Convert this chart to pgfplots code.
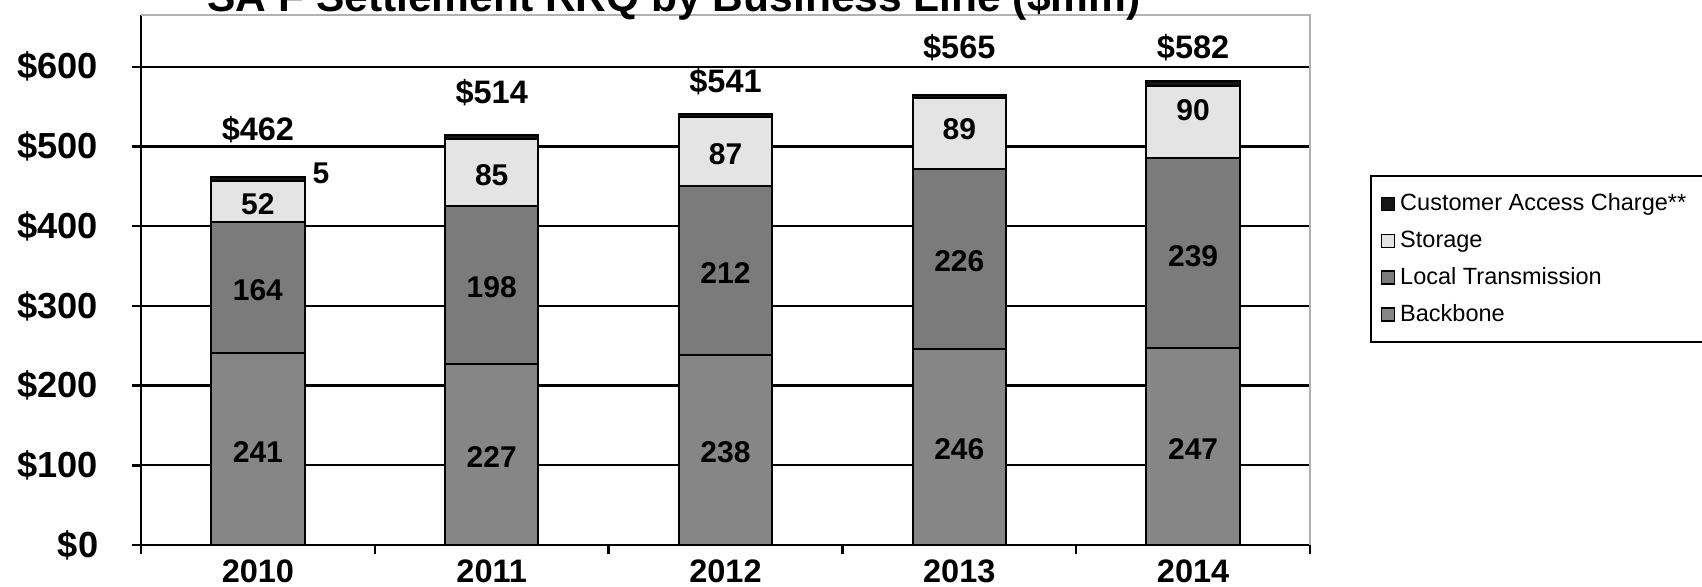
\documentclass[border=0pt]{standalone}
\usepackage{fontspec}
\setmainfont{Liberation Sans}
\usepackage{pgfplots}
\pgfplotsset{compat=1.18}

\definecolor{cac}{HTML}{151515}
\definecolor{stor}{HTML}{E4E4E4}
\definecolor{loc}{HTML}{7B7B7B}
\definecolor{bb}{HTML}{868686}

\tikzset{seg/.style={font=\fontsize{12}{14}\selectfont\bfseries},
         tot/.style={font=\fontsize{13}{15}\selectfont\bfseries}}
\pgfplotsset{frame/.style={width=467.6pt,height=212pt,scale only axis,clip=false,
  xmin=-0.5,xmax=4.5,ymin=0,ymax=665}}

\begin{document}
\begin{tikzpicture}
\begin{axis}[%
frame,
ybar stacked,
bar width=37.4pt,
axis x line=bottom,
axis y line=left,
axis line style={-,line width=1pt},
xtick={-0.5,0.5,1.5,2.5,3.5,4.5},
xticklabels={},
extra x ticks={0,1,2,3,4},
extra x tick labels={2010,2011,2012,2013,2014},
extra x tick style={major tick length=0pt},
ytick={0,100,200,300,400,500,600},
yticklabels={\$0,\$100,\$200,\$300,\$400,\$500,\$600},
tick style={black,line width=1pt},
tick align=outside,
major tick length=3.6pt,
ymajorgrids,
grid style={black,line width=0.9pt},
yticklabel style={font=\fontsize{14.5}{16}\selectfont\bfseries,xshift=-10pt},
xticklabel style={font=\fontsize{13}{15}\selectfont\bfseries,yshift=-2.5pt},
reverse legend,
legend cell align=left,
legend style={at={(1.0513,0.698)},anchor=north west,draw=black,line width=0.8pt,
  font=\fontsize{9.4}{11}\selectfont,row sep=2.5pt,inner xsep=4pt,inner ysep=5pt},
legend image code/.code={\draw[#1,line width=0.5pt] (0pt,-2.6pt) rectangle (5.2pt,2.6pt);},
]
\addplot[fill=bb,draw=black,line width=0.8pt] coordinates {(0,241) (1,227) (2,238) (3,246) (4,247)};
\addplot[fill=loc,draw=black,line width=0.8pt] coordinates {(0,164) (1,198) (2,212) (3,226) (4,239)};
\addplot[fill=stor,draw=black,line width=0.8pt] coordinates {(0,52) (1,85) (2,87) (3,89) (4,90)};
\addplot[fill=cac,draw=black,line width=0.8pt] coordinates {(0,5) (1,4) (2,4) (3,4) (4,6)};
\legend{Backbone,Local Transmission,Storage,{Customer Access Charge**\rule{60pt}{0pt}}}

% top and right border of the plot area
\draw[gray!60,line width=0.6pt] (rel axis cs:0,1) -- (rel axis cs:1,1) -- (rel axis cs:1,0);
\coordinate (sw) at (rel axis cs:0,0);
\coordinate (ne) at (rel axis cs:1,1);
\end{axis}

% labels on top of the bars
\begin{axis}[frame,hide axis]
\node[seg] at (axis cs:0,117) {241}; \node[seg] at (axis cs:0,320) {164}; \node[seg] at (axis cs:0,428) {52};
\node[seg] at (axis cs:1,110) {227}; \node[seg] at (axis cs:1,323) {198}; \node[seg] at (axis cs:1,464) {85};
\node[seg] at (axis cs:2,116) {238}; \node[seg] at (axis cs:2,341) {212}; \node[seg] at (axis cs:2,490) {87};
\node[seg] at (axis cs:3,120) {246}; \node[seg] at (axis cs:3,356) {226}; \node[seg] at (axis cs:3,522) {89};
\node[seg] at (axis cs:4,120) {247}; \node[seg] at (axis cs:4,363) {239}; \node[seg] at (axis cs:4,545) {90};
\node[seg] at (axis cs:0.27,466) {5};
\node[tot] at (axis cs:0,521) {\$462};
\node[tot] at (axis cs:1,568) {\$514};
\node[tot] at (axis cs:2,582) {\$541};
\node[tot] at (axis cs:3,624) {\$565};
\node[tot] at (axis cs:4,624) {\$582};
\node[anchor=base,yshift=1.5pt,font=\fontsize{17}{20}\selectfont\bfseries] at (rel axis cs:0.456,1)
  {SA F Settlement RRQ by Business Line (\$mm)};
\end{axis}
\pgfresetboundingbox
\path[use as bounding box] ([shift={(-56.4pt,-16.4pt)}]sw) rectangle ([shift={(156.8pt,6pt)}]ne);
\end{tikzpicture}
\end{document}
